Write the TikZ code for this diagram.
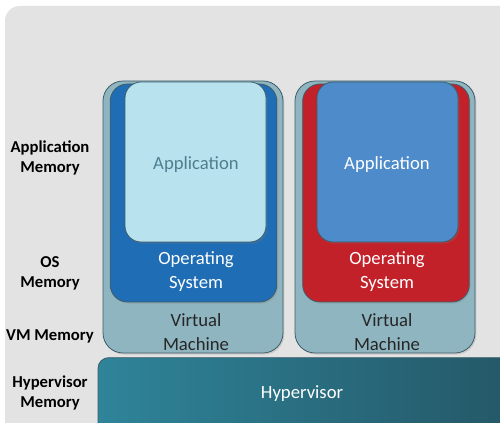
\documentclass[tikz,border=0pt]{standalone}
\usepackage{fontspec}
\setmainfont{Carlito}
\usepackage{tikz}
\usetikzlibrary{positioning, calc, shadows}
\definecolor{bggray}{HTML}{E3E3E3}
\definecolor{vmfill}{HTML}{8FB5C0}
\definecolor{vmedge}{HTML}{4E7483}
\definecolor{osblue}{HTML}{1F6DB4}
\definecolor{osred}{HTML}{C3212A}
\definecolor{appcyan}{HTML}{B8E2EE}
\definecolor{appblue}{HTML}{4D8BCB}
\definecolor{apptext}{HTML}{4F7F8F}
\definecolor{hypleft}{HTML}{2F8499}
\definecolor{hypright}{HTML}{245868}
\tikzset{
    layer/.style = {inner sep=0pt, draw=vmedge!80!black, line width=0.6pt,
        drop shadow={opacity=0.25, shadow xshift=1pt, shadow yshift=-1.2pt}},
    vmbox/.style = {layer, fill=vmfill, rounded corners=15pt,
        minimum width=135pt, minimum height=204pt},
    osbox/.style = {layer, rounded corners=13pt,
        minimum width=125pt, minimum height=163.5pt},
    appbox/.style = {layer, rounded corners=12pt,
        minimum width=105.75pt, minimum height=120pt},
    hypbox/.style = {layer, left color=hypleft, right color=hypright,
        rounded corners=8pt, minimum width=309pt, minimum height=62pt},
    memlabel/.style = {font=\bfseries\fontsize{12.5}{15}\selectfont,
        align=center, text=black},
    boxtext/.style = {font=\fontsize{14}{18}\selectfont, align=center},
}

\begin{document}
\begin{tikzpicture}[x=0.75pt, y=-0.75pt]
        \useasboundingbox (0,0) rectangle (500,423);
        \fill[bggray, rounded corners=11pt] (5,6) rectangle (530,460);
        % memory labels
        \node (lapp) [memlabel] at (50,158) {Application\\Memory};
        \node (los) [memlabel] at (50,273) {OS\\Memory};
        \node (lvm) [memlabel] at (50,336) {VM Memory};
        \node (lhyp) [memlabel] at (50,393) {Hypervisor\\Memory};
        % first virtual machine
        \node (vmA) [vmbox] at (193,217) {};
        \node (osA) [osbox, fill=osblue] at (193.5,193) {};
        \node (appA) [appbox, fill=appcyan] at (195.5,162) {};
        \node (appAtext) [boxtext, text=apptext] at (196,165) {Application};
        \node (osAtext) [boxtext, white] at (196,272) {Operating\\System};
        \node (vmAtext) [boxtext, black!85] at (196,332) {Virtual\\Machine};
        % second virtual machine
        \node (vmB) [vmbox] at (385,217) {};
        \node (osB) [osbox, fill=osred] at (386,193) {};
        \node (appB) [appbox, fill=appblue] at (387.5,162) {};
        \node (appBtext) [boxtext, white] at (387,165) {Application};
        \node (osBtext) [boxtext, white] at (387,272) {Operating\\System};
        \node (vmBtext) [boxtext, black!85] at (387,332) {Virtual\\Machine};
        % hypervisor
        \node (hyp) [hypbox] at (304,399) {};
        \node (hyptext) [boxtext, white] at (302,394) {Hypervisor};
\end{tikzpicture}
\end{document}
